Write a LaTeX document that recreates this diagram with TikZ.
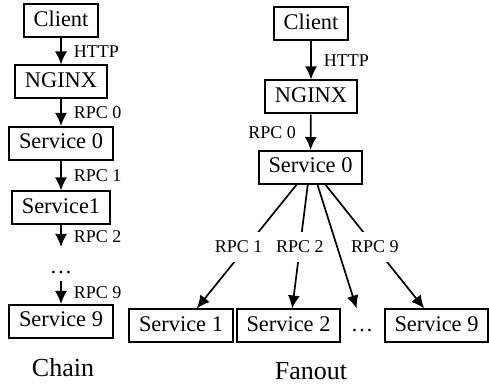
\documentclass[tikz,border=0pt]{standalone}
\usepackage{fontspec}
\setmainfont{Liberation Serif}
\usetikzlibrary{arrows.meta}

\begin{document}
\begin{tikzpicture}[>={Latex[length=6.5pt,width=6pt]},x=0.5pt,y=-0.5pt,
        box/.style={draw,line width=1pt,inner xsep=5pt,minimum height=16.5pt,text height=0.7em,text depth=0.15em,font=\fontsize{11.2}{13}\selectfont},
        lbl/.style={font=\fontsize{9}{11}\selectfont,inner sep=2pt},
        rpc/.style={lbl,fill=white,inner xsep=2pt,inner ysep=4.5pt},
        link/.style={->,line width=0.85pt},
        title/.style={font=\fontsize{13}{15}\selectfont}]
        \useasboundingbox(0,0)rectangle(489,385);
        % chain
        \node[box](lc)at(61,21){Client};
        \node[box](ln)at(61,82){NGINX};
        \node[box](l0)at(61,143.5){Service 0};
        \node[box](l1)at(61,208){Service1};
        \coordinate(l2)at(61,247);
        \node[anchor=base,font=\fontsize{11.2}{13}\selectfont](ld)at(61,274){…};
        \node[box](l9)at(61,321.5){Service 9};
        \node[title](chain)at(63,368){Chain};
        \draw[link](lc)--node[lbl,right=4pt]{HTTP}(ln);
        \draw[link](ln)--node[lbl,right=4pt]{RPC 0}(l0);
        \draw[link](l0)--node[lbl,right=4pt]{RPC 1}(l1);
        \draw[link](l1)--node[lbl,right=4pt]{RPC 2}(l2);
        \draw[link](ld)--node[lbl,right=4pt]{RPC 9}(l9);
        % fanout
        \node[box](rc)at(311,24){Client};
        \node[box](rn)at(311,97){NGINX};
        \node[box](r0)at(310.5,167.5){Service 0};
        \node[box](f1)at(181,326){Service 1};
        \node[box](f2)at(288.5,326){Service 2};
        \node[box,draw=none](fd)at(362,326){…};
        \node[box](f9)at(436.5,326){Service 9};
        \node[title](fanout)at(311,371){Fanout};
        \draw[link](rc)--node[lbl,right=4pt]{HTTP}(rn);
        \draw[link](rn)--node[lbl,left=5pt]{RPC 0}(r0);
        \draw[link](r0.-129)--node[rpc,xshift=-4pt]{RPC 1}(f1.48);
        \draw[link](r0.-99)--node[rpc]{RPC 2}(f2.78);
        \draw[link](r0.-49)--node[rpc]{RPC 9}(f9.125);
        \draw[link](r0.-68)--(fd.107);
    \end{tikzpicture}
\end{document}
